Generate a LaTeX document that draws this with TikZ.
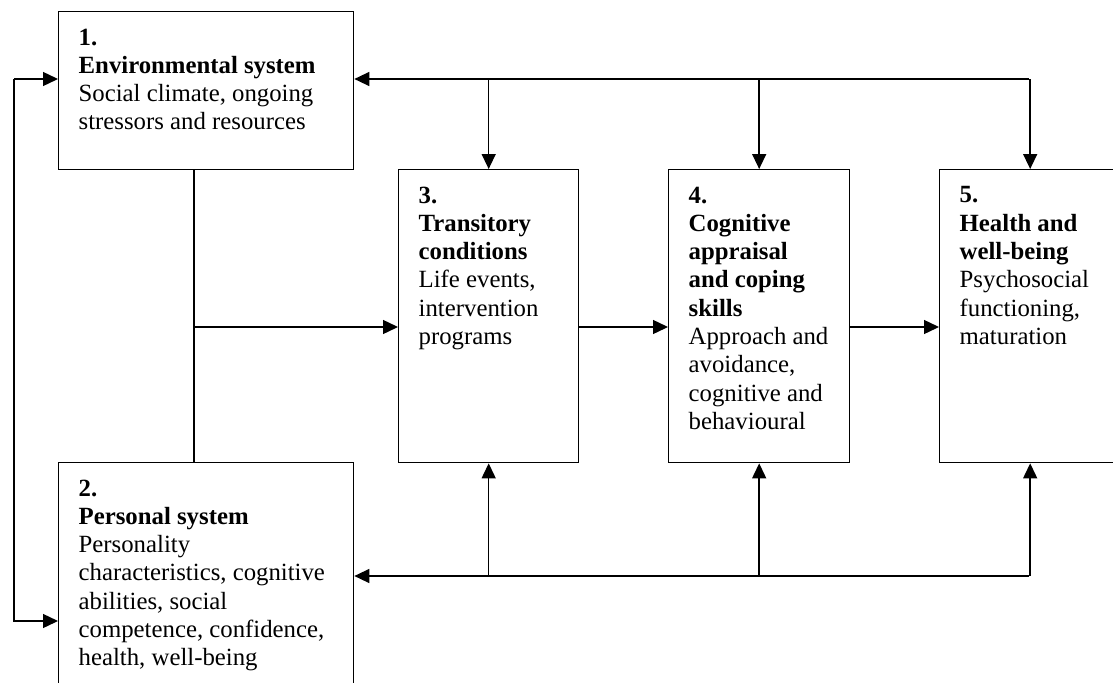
\documentclass[tikz,border=0pt]{standalone}
\usepackage{fontspec}
\setmainfont{Liberation Serif}
\usepackage{tikz}
\usetikzlibrary{arrows.meta,calc}

\begin{document}
\begin{tikzpicture}[x=0.02cm, y=-0.02cm, line width=0.8pt,
		box/.style={draw, rectangle, inner sep=0pt, anchor=north west},
		boxtext/.style={anchor=north west, inner sep=0pt, align=left,
			font=\fontsize{14.1pt}{16.1pt}\selectfont},
		arr/.style={-{Triangle[length=3mm, width=2.8mm]}}]
		\clip (0,0) rectangle (1113,683);
		% the five systems
		\node[box, minimum width=5.9cm, minimum height=3.16cm] (b1) at (58,11) {};
		\node[box, minimum width=5.9cm, minimum height=6cm] (b2) at (58,462) {};
		\node[box, minimum width=3.6cm, minimum height=5.86cm] (b3) at (398,169) {};
		\node[box, minimum width=3.62cm, minimum height=5.86cm] (b4) at (668,169) {};
		\node[box, minimum width=3.62cm, minimum height=5.86cm] (b5) at (939,169) {};
		\node[boxtext] (t1) at ([shift={(20,17)}]b1.north west)
			{\textbf{1.}\\\textbf{Environmental system}\\Social climate, ongoing\\stressors and resources};
		\node[boxtext] (t2) at ([shift={(20,17)}]b2.north west)
			{\textbf{2.}\\\textbf{Personal system}\\Personality\\characteristics, cognitive\\abilities, social\\competence, confidence,\\health, well-being};
		\node[boxtext] (t3) at ([shift={(20,17)}]b3.north west)
			{\textbf{3.}\\\textbf{Transitory}\\\textbf{conditions}\\Life events,\\intervention\\programs};
		\node[boxtext] (t4) at ([shift={(20,17)}]b4.north west)
			{\textbf{4.}\\\textbf{Cognitive}\\\textbf{appraisal}\\\textbf{and coping}\\\textbf{skills}\\Approach and\\avoidance,\\cognitive and\\behavioural};
		\node[boxtext] (t5) at ([shift={(20,17)}]b5.north west)
			{\textbf{5.}\\\textbf{Health and}\\\textbf{well-being}\\Psychosocial\\functioning,\\maturation};
		% routing points
		\coordinate (top) at (1029,79);
		\coordinate (bot) at (1029,576);
		\coordinate (lt) at (14,79);
		\coordinate (lb) at (14,621);
		\coordinate (j) at (194,327);
		% top feedback line
		\draw[arr] (top) -- (top -| b1.east);
		\draw[arr] (b3.north |- top) -- (b3.north);
		\draw[arr] (b4.north |- top) -- (b4.north);
		\draw[arr] (b5.north |- top) -- (b5.north);
		% bottom feedback line
		\draw[arr] (bot) -- (bot -| b2.east);
		\draw[arr] (b3.south |- bot) -- (b3.south);
		\draw[arr] (b4.south |- bot) -- (b4.south);
		\draw[arr] (b5.south |- bot) -- (b5.south);
		% left link between 1 and 2
		\draw[arr] (lt) -- (lt -| b1.west);
		\draw[arr] (lt) -- (lb) -- (lb -| b2.west);
		% main chain
		\draw (b1.south -| j) -- (b2.north -| j);
		\draw[arr] (j) -- (j -| b3.west);
		\draw[arr] (b3.east |- j) -- (b4.west |- j);
		\draw[arr] (b4.east |- j) -- (b5.west |- j);
	\end{tikzpicture}
\end{document}
